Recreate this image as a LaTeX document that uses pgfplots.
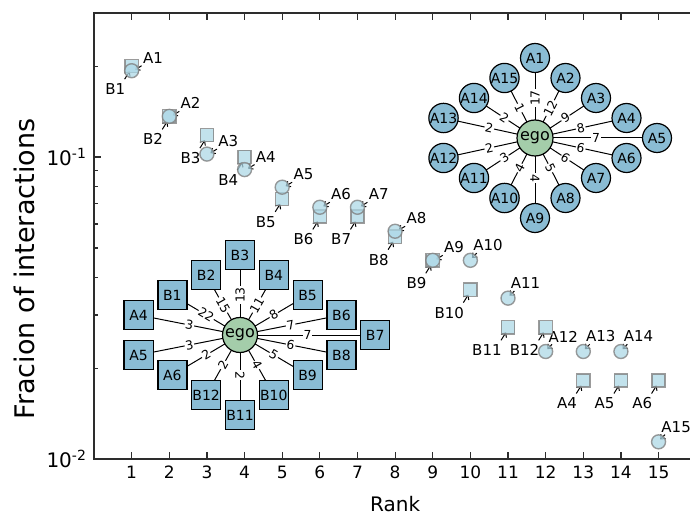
\documentclass[border=0pt]{standalone}
\usepackage{fontspec}
\setmainfont{DejaVu Sans}
\usepackage{pgfplots}
\pgfplotsset{compat=1.18}
\usetikzlibrary{arrows.meta}
\definecolor{ptfill}{RGB}{173,216,230}
\definecolor{ptedge}{RGB}{130,130,130}
\definecolor{nodeblue}{RGB}{138,188,212}
\definecolor{egogreen}{RGB}{164,205,170}
\definecolor{spine}{RGB}{45,45,45}
\tikzset{annarrow/.style={line width=0.5pt,-{Straight Barb[length=1.8pt,width=3.2pt]}}}
\newcommand\annA[3]{%
  \draw[annarrow] ([shift={(5pt,2.5pt)}]axis cs:#1,#2) -- ([shift={(1.75pt,0.5pt)}]axis cs:#1,#2);
  \node[anchor=west,inner sep=0pt] at ([shift={(5.5pt,6.5pt)}]axis cs:#1,#2) {#3};}
\newcommand\annC[3]{%
  \draw[annarrow] ([shift={(3.2pt,3.6pt)}]axis cs:#1,#2) -- ([shift={(0.8pt,1.2pt)}]axis cs:#1,#2);
  \node[anchor=west,inner sep=0pt] at ([shift={(1.25pt,7.5pt)}]axis cs:#1,#2) {#3};}
\newcommand\annB[3]{%
  \draw[annarrow] ([shift={(-3.5pt,-6.5pt)}]axis cs:#1,#2) -- ([shift={(-1pt,-2.5pt)}]axis cs:#1,#2);
  \node[anchor=east,inner sep=0pt] at ([shift={(-3pt,-11.5pt)}]axis cs:#1,#2) {#3};}
\begin{document}
\begin{tikzpicture}[font=\fontsize{7.5}{9}\selectfont]
\begin{axis}[name=ax, scale only axis, width=301.1pt, height=223pt,
  xmin=0, xmax=16, ymode=log, ymin=0.01, ymax=0.3,
  xtick={1,...,15}, xticklabels={1,2,3,4,5,6,7,8,9,10,11,12,13,14,15},
  ytick={0.01,0.1}, yticklabels={10\textsuperscript{-2},10\textsuperscript{-1}},
  minor ytick={0.02,0.03,0.04,0.05,0.06,0.07,0.08,0.09,0.2,0.3},
  ytick pos=left, xtick pos=both,
  tick align=inside, major tick length=3.5pt, minor tick length=2pt,
  axis line style={spine, line width=0.7pt},
  every tick/.style={spine, line width=0.6pt},
  xticklabel style={font=\fontsize{8.5}{10}\selectfont},
  yticklabel style={font=\fontsize{10}{12}\selectfont},
  xlabel={Rank}, ylabel={Fracion of interactions},
  every axis x label/.style={at={(rel axis cs:0.5,0)}, yshift=-22.5pt, anchor=center, font=\fontsize{10}{12}\selectfont},
  every axis y label/.style={at={([xshift=-35pt]rel axis cs:0,0.426)}, rotate=90, anchor=center, font=\fontsize{13.5}{15}\selectfont},
]
\addplot[only marks, mark=square*, mark size=3.3pt,
  mark options={fill=ptfill, fill opacity=0.75, draw=ptedge, draw opacity=0.8, line width=0.7pt}]
  table {
x y
1 0.2000
2 0.1364
3 0.1182
4 0.1000
5 0.0727
6 0.0636
7 0.0636
8 0.0545
9 0.0455
10 0.0364
11 0.0273
12 0.0273
13 0.0182
14 0.0182
15 0.0182
};
\addplot[only marks, mark=*, mark size=3.5pt,
  mark options={fill=ptfill, fill opacity=0.75, draw=ptedge, draw opacity=0.8, line width=0.7pt}]
  table {
x y
1 0.1932
2 0.1364
3 0.1023
4 0.0909
5 0.0795
6 0.0682
7 0.0682
8 0.0568
9 0.0455
10 0.0455
11 0.0341
12 0.0227
13 0.0227
14 0.0227
15 0.0114
};
% labels for circles
\annA{1}{0.1932}{A1}
\annA{2}{0.1364}{A2}
\annA{3}{0.1023}{A3}
\annA{4}{0.0909}{A4}
\annA{5}{0.0795}{A5}
\annA{6}{0.0682}{A6}
\annA{7}{0.0682}{A7}
\annA{8}{0.0568}{A8}
\annA{9}{0.0455}{A9}
\annC{10}{0.0455}{A10}
\annC{11}{0.0341}{A11}
\annC{12}{0.0227}{A12}
\annC{13}{0.0227}{A13}
\annC{14}{0.0227}{A14}
\annC{15}{0.0114}{A15}
% labels for squares
\annB{1}{0.2000}{B1}
\annB{2}{0.1364}{B2}
\annB{3}{0.1182}{B3}
\annB{4}{0.1000}{B4}
\annB{5}{0.0727}{B5}
\annB{6}{0.0636}{B6}
\annB{7}{0.0636}{B7}
\annB{8}{0.0545}{B8}
\annB{9}{0.0455}{B9}
\annB{10}{0.0364}{B10}
\annB{11}{0.0273}{B11}
\annB{12}{0.0273}{B12}
\annB{13}{0.0182}{A4}
\annB{14}{0.0182}{A5}
\annB{15}{0.0182}{A6}
\end{axis}
% ego network A (circles)
\begin{scope}[shift={(ax.south west)}, xshift=220.5pt, yshift=160.5pt]
  \foreach \u/\v/\w in {0/4/17,1/3/12,2/2/9,3/1/8,4/0/7,3/-1/6,2/-2/6,1/-3/5,0/-4/4,-1/-3/4,-2/-2/3,-3/-1/2,-3/1/2,-2/2/2,-1/3/1}
    \draw[line width=0.5pt] (0,0) -- (\u*15.25pt,\v*10pt) node[midway, sloped, fill=white, inner sep=0.4pt, font=\fontsize{6.2}{7}\selectfont] {\w};
  \foreach \u/\v/\l in {0/4/A1,1/3/A2,2/2/A3,3/1/A4,4/0/A5,3/-1/A6,2/-2/A7,1/-3/A8,0/-4/A9,-1/-3/A10,-2/-2/A11,-3/-1/A12,-3/1/A13,-2/2/A14,-1/3/A15}
    \node[circle, draw=black, line width=0.6pt, fill=nodeblue, minimum size=14.5pt, inner sep=0pt, font=\fontsize{7}{8}\selectfont] at (\u*15.25pt,\v*10pt) {\l};
  \node[circle, draw=black, line width=0.6pt, fill=egogreen, minimum size=18pt, inner sep=0pt, font=\fontsize{8}{9}\selectfont] at (0,0) {ego};
\end{scope}
% ego network B (squares)
\begin{scope}[shift={(ax.south west)}, xshift=73pt, yshift=62pt]
  \foreach \u/\v/\w in {0/4/13,1/3/11,2/2/8,3/1/7,4/0/7,3/-1/6,2/-2/5,1/-3/4,0/-4/2,-1/-3/2,-2/-2/2,-3/-1/3,-3/1/3,-2/2/22,-1/3/15}
    \draw[line width=0.5pt] (0,0) -- (\u*16.9pt,\v*10pt) node[midway, sloped, fill=white, inner sep=0.4pt, font=\fontsize{6.2}{7}\selectfont] {\w};
  \foreach \u/\v/\l in {0/4/B3,1/3/B4,2/2/B5,3/1/B6,4/0/B7,3/-1/B8,2/-2/B9,1/-3/B10,0/-4/B11,-1/-3/B12,-2/-2/A6,-3/-1/A5,-3/1/A4,-2/2/B1,-1/3/B2}
    \node[rectangle, draw=black, line width=0.6pt, fill=nodeblue, minimum size=14.5pt, inner sep=0pt, font=\fontsize{7}{8}\selectfont] at (\u*16.9pt,\v*10pt) {\l};
  \node[circle, draw=black, line width=0.6pt, fill=egogreen, minimum size=17.5pt, inner sep=0pt, font=\fontsize{8}{9}\selectfont] at (0,0) {ego};
\end{scope}
\pgfresetboundingbox
\path[use as bounding box] ([xshift=-47pt,yshift=-27.5pt]ax.south west) rectangle ([xshift=298pt,yshift=6.5pt]ax.north west);
\end{tikzpicture}
\end{document}
